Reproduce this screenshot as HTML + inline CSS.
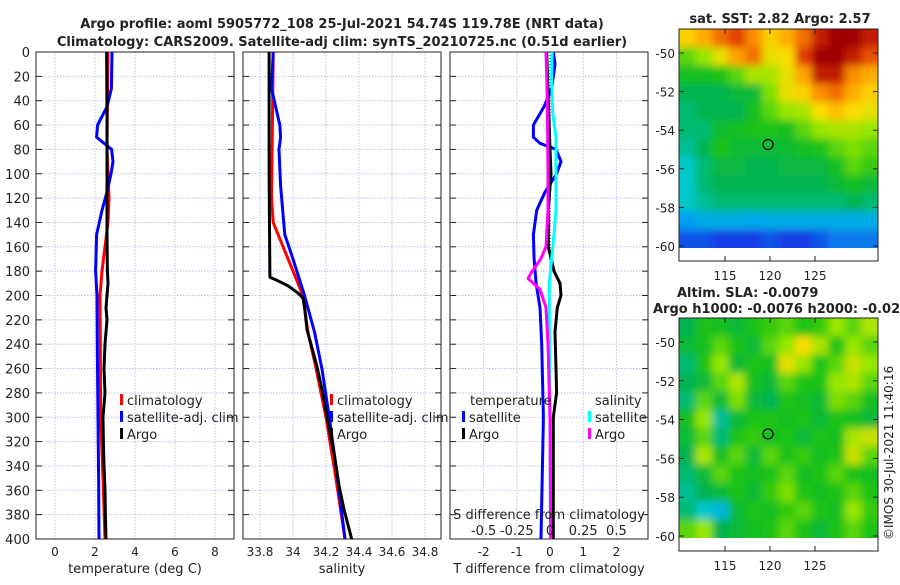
<!DOCTYPE html>
<html><head><meta charset="utf-8"><style>
body{margin:0;background:#fff;width:900px;height:580px;overflow:hidden}
svg text{font-family:"DejaVu Sans","Liberation Sans",sans-serif;fill:#222}
</style></head><body>
<svg id="fig" width="900" height="580" xmlns="http://www.w3.org/2000/svg">
<defs>
<filter id="blur" x="0" y="0" width="1" height="1"><feGaussianBlur stdDeviation="4"/></filter>
<clipPath id="clip1"><rect x="679" y="29" width="199" height="219"/></clipPath>
<clipPath id="clip2"><rect x="679" y="318" width="199" height="220"/></clipPath>
</defs>
<text x="342" y="28" font-size="13" font-weight="bold" text-anchor="middle">Argo profile: aoml 5905772_108 25-Jul-2021 54.74S 119.78E (NRT data)</text>
<text x="342" y="46" font-size="13" font-weight="bold" text-anchor="middle">Climatology: CARS2009. Satellite-adj clim: synTS_20210725.nc (0.51d earlier)</text>
<text x="780" y="23" font-size="13" font-weight="bold" text-anchor="middle">sat. SST: 2.82 Argo: 2.57</text>
<text x="677" y="297" font-size="13" font-weight="bold">Altim. SLA: -0.0079</text>
<text x="653" y="313" font-size="13" font-weight="bold">Argo h1000: -0.0076 h2000: -0.02</text>
<text transform="translate(893,540) rotate(-90)" font-size="12">©IMOS 30-Jul-2021 11:40:16</text>
<g id="plots"></g>
</svg>
<script>
// depth ticks
const depthTicks=[0,20,40,60,80,100,120,140,160,180,200,220,240,260,280,300,320,340,360,380,400];
// Panel 1 temperature
const tempTicks=[0,2,4,6,8];
const climTDepth=[0,40,80,120,140,160,180,200,250,300,350,400];
const climT=[2.65,2.62,2.6,2.7,2.65,2.5,2.35,2.25,2.27,2.28,2.4,2.5];
const satTDepth=[0,30,45,60,70,80,90,100,115,130,150,180,200,250,300,350,400];
const satT=[2.85,2.82,2.6,2.13,2.08,2.83,2.9,2.8,2.6,2.35,2.08,2.03,2.1,2.12,2.15,2.18,2.2];
const argoTDepth=[0,50,100,150,180,190,200,210,220,240,260,280,300,320,340,360,380,400];
const argoT=[2.58,2.6,2.6,2.6,2.62,2.65,2.6,2.55,2.6,2.5,2.45,2.5,2.4,2.42,2.45,2.5,2.52,2.55];
// Panel 2 salinity
const salTicks=[33.8,34,34.2,34.4,34.6,34.8];
const climSDepth=[0,60,120,140,160,180,200,230,260,300,350,400];
const climS=[33.88,33.875,33.87,33.88,33.94,34.0,34.06,34.09,34.14,34.2,34.26,34.315];
const satSDepth=[0,30,60,70,80,110,150,170,200,230,260,300,350,400];
const satS=[33.88,33.87,33.92,33.925,33.915,33.925,33.95,34.0,34.07,34.13,34.175,34.22,34.27,34.315];
const argoSDepth=[0,100,185,187,192,198,202,209,228,258,280,310,330,357,376,397,400];
const argoS=[33.855,33.855,33.86,33.895,33.97,34.03,34.06,34.07,34.085,34.145,34.18,34.22,34.25,34.28,34.31,34.35,34.355];
// Panel 3 differences (T axis units; S values)
const diffTTicks=[-2,-1,0,1,2];
const diffSTicks=[-0.5,-0.25,0,0.25,0.5];
const diffSLabels=["-0.5","-0.25","0","0.25","0.5"];
const satDTDepth=[0,10,30,45,60,70,75,80,90,100,115,130,150,170,190,210,240,300,400];
const satDT=[0.1,0.15,0.05,-0.18,-0.5,-0.5,-0.3,0.18,0.33,0.2,-0.15,-0.4,-0.5,-0.48,-0.42,-0.3,-0.25,-0.2,-0.27];
const argoDTDepth=[0,40,80,100,130,160,180,190,200,210,230,260,280,300,350,400];
const argoDT=[-0.1,-0.05,0,0.03,-0.05,-0.05,0.12,0.3,0.33,0.22,0.15,0.18,0.2,0.1,0.1,0.1];
const satDSDepth=[0,20,50,70,100,130,150,170,190,220,300,400];
const satDS=[0.015,0.012,0.02,0.045,0.045,0.045,0.03,0.012,-0.005,-0.005,0,0.004];
const argoDSDepth=[0,20,40,100,130,160,170,181,186,195,210,240,300,400];
const argoDS=[-0.03,-0.025,-0.02,-0.015,-0.015,-0.03,-0.07,-0.14,-0.165,-0.075,-0.03,-0.015,0,0.005];
// Map values (0..1)
const sstGrid=[
[.72,.78,.85,.9,.82,.72,.78,.85,.95,1,1,.95],
[.55,.6,.68,.8,.85,.68,.7,.9,1,1,.95,.88],
[.48,.48,.5,.55,.62,.62,.68,.8,.95,.95,.82,.78],
[.42,.42,.42,.45,.45,.58,.68,.72,.82,.85,.78,.72],
[.4,.42,.42,.42,.48,.55,.6,.62,.7,.75,.7,.68],
[.4,.4,.46,.48,.5,.5,.48,.55,.6,.62,.62,.6],
[.38,.42,.5,.46,.45,.45,.46,.48,.5,.55,.58,.55],
[.35,.4,.44,.44,.42,.42,.44,.44,.44,.48,.55,.52],
[.35,.4,.42,.42,.42,.42,.42,.42,.42,.45,.48,.45],
[.35,.38,.4,.4,.4,.4,.4,.4,.4,.4,.42,.4],
[.28,.3,.3,.3,.29,.3,.3,.3,.3,.3,.3,.3],
[.22,.22,.2,.2,.2,.22,.2,.2,.22,.25,.25,.25]];
const slaGrid=[
[.42,.5,.48,.45,.5,.52,.55,.5,.52,.6,.55,.62],
[.45,.48,.55,.5,.45,.55,.6,.7,.62,.5,.6,.55],
[.4,.5,.6,.45,.5,.48,.68,.6,.5,.55,.65,.6],
[.42,.45,.55,.62,.48,.45,.55,.5,.5,.6,.62,.55],
[.4,.55,.45,.58,.45,.42,.5,.48,.45,.58,.55,.48],
[.48,.6,.38,.45,.5,.5,.48,.5,.45,.5,.48,.45],
[.45,.55,.4,.5,.52,.48,.5,.45,.5,.48,.62,.65],
[.42,.62,.48,.55,.45,.55,.5,.52,.48,.5,.65,.55],
[.4,.45,.55,.5,.48,.5,.55,.48,.5,.55,.5,.48],
[.38,.42,.45,.5,.45,.52,.58,.5,.48,.5,.55,.5],
[.4,.35,.32,.45,.5,.48,.52,.55,.5,.48,.6,.52],
[.55,.6,.42,.45,.48,.5,.55,.5,.45,.5,.55,.5]];
const latTicks=[-50,-52,-54,-56,-58,-60];
const lonTicks=[115,120,125];
const argoLon=119.78, argoLat=-54.74;

const NS='http://www.w3.org/2000/svg';
const root=document.getElementById('plots');
function mk(tag,attrs,parent){const e=document.createElementNS(NS,tag);for(const k in attrs)e.setAttribute(k,attrs[k]);(parent||root).appendChild(e);return e;}
const Y0=52,Y1=539;
const yD=d=>Y0+(Y1-Y0)*d/400;
function lin(d0,d1,r0,r1){return v=>r0+(v-d0)*(r1-r0)/(d1-d0);}
function panel(name,x0,x1,xs,ticks,labels,showY){
  const g=mk('g',{});
  
  
  depthTicks.forEach(d=>{
    mk('line',{x1:x0,x2:x1,y1:yD(d),y2:yD(d),stroke:'#b8c4e8','stroke-dasharray':'1.5,1.5','stroke-width':1},g);
    mk('line',{x1:x0,x2:x0+6,y1:yD(d),y2:yD(d),stroke:'#222'},g);
    mk('line',{x1:x1-6,x2:x1,y1:yD(d),y2:yD(d),stroke:'#222'},g);
    if(showY){const t=mk('text',{x:x0-6,y:yD(d)+5,'font-size':13,'text-anchor':'end'},g);t.textContent=d;}
  });
  ticks.forEach((v,i)=>{
    const x=xs(v);
    mk('line',{x1:x,x2:x,y1:Y0,y2:Y1,stroke:'#b8c4e8','stroke-dasharray':'1.5,1.5'},g);
    const t=mk('text',{x:x,y:Y1+17,'font-size':12,'text-anchor':'middle'},g);t.textContent=labels?labels[i]:v;
  });
  mk('rect',{x:x0,y:Y0,width:x1-x0,height:Y1-Y0,fill:'none',stroke:'#222'},g);
  return g;
}
function line(g,name,depths,vals,xs,color,w,dash){
  const p=mk('polyline',{points:depths.map((d,i)=>xs(vals[i]).toFixed(1)+','+yD(d).toFixed(1)).join(' '),fill:'none',stroke:color,'stroke-width':w||3,'stroke-linejoin':'round'},g);
  if(dash)p.setAttribute('stroke-dasharray',dash);
  
  
}
function text(g,x,y,s,size,anchor){const t=mk('text',{x:x,y:y,'font-size':size||13,'text-anchor':anchor||'start'},g);t.textContent=s;return t;}
function legend(g,name,x,y,color,label){
  const lg=mk('g',{},g);
  
  
  mk('rect',{x:x,y:y-11,width:3,height:11,fill:color},lg);
  text(lg,x+7,y,label,13);
}
// Panel 1
const xT=lin(0,2,55,95);
const g1=panel('temperature-panel',36,234,xT,tempTicks,null,true);
line(g1,'climatology-temp-line',climTDepth,climT,xT,'#f00');
line(g1,'satellite-temp-line',satTDepth,satT,xT,'#00f');
line(g1,'argo-temp-line',argoTDepth,argoT,xT,'#000');
text(g1,135,573,'temperature (deg C)',13,'middle');
legend(g1,'legend-climatology',120,405,'#f00','climatology');
legend(g1,'legend-satellite',120,422,'#00f','satellite-adj. clim');
legend(g1,'legend-argo',120,439,'#000','Argo');
// Panel 2
const xS=lin(33.8,34,260,293);
const g2=panel('salinity-panel',243,441,xS,salTicks,null,false);
line(g2,'climatology-sal-line',climSDepth,climS,xS,'#f00');
line(g2,'satellite-sal-line',satSDepth,satS,xS,'#00f');
line(g2,'argo-sal-line',argoSDepth,argoS,xS,'#000');
text(g2,342,573,'salinity',13,'middle');
legend(g2,'legend-climatology-sal',330,405,'#f00','climatology');
legend(g2,'legend-satellite-sal',330,422,'#00f','satellite-adj. clim');
legend(g2,'legend-argo-sal',330,439,'#000','Argo');
// Panel 3
const xDT=lin(0,1,550,583.2);
const xDS=lin(0,0.25,550,583.2);
const g3=panel('difference-panel',450,648,xDT,diffTTicks,null,false);
mk('line',{x1:xDT(0),x2:xDT(0),y1:Y0,y2:Y1,stroke:'#555','stroke-dasharray':'1,2','stroke-width':1.5},g3);
line(g3,'satellite-tdiff-line',satDTDepth,satDT,xDT,'#00f');
line(g3,'argo-tdiff-line',argoDTDepth,argoDT,xDT,'#000');
line(g3,'satellite-sdiff-line',satDSDepth,satDS,xDS,'#0ff');
line(g3,'argo-sdiff-line',argoDSDepth,argoDS,xDS,'#f0f');
text(g3,549,573,'T difference from climatology',13,'middle');
text(g3,470,405,'temperature',13);
text(g3,595,405,'salinity',13);
legend(g3,'legend-sat-t',462,422,'#00f','satellite');
legend(g3,'legend-argo-t',462,439,'#000','Argo');
legend(g3,'legend-sat-s',588,422,'#0ff','satellite');
legend(g3,'legend-argo-s',588,439,'#f0f','Argo');
text(g3,549,519,'S difference from climatology',13,'middle');
diffSTicks.forEach((v,i)=>text(g3,xDS(v),535,diffSLabels[i],13,'middle'));
// Maps
const cmapStops=[[0,[0,0,170]],[0.2,[20,60,230]],[0.28,[0,160,240]],[0.35,[0,200,200]],[0.42,[0,180,80]],[0.5,[30,195,20]],[0.6,[150,230,0]],[0.7,[250,220,0]],[0.8,[255,160,0]],[0.9,[225,60,0]],[1,[160,0,0]]];
function cmap(v){
  for(let i=1;i<cmapStops.length;i++){
    if(v<=cmapStops[i][0]){const a=cmapStops[i-1],b=cmapStops[i];const t=(v-a[0])/(b[0]-a[0]);
      return 'rgb('+a[1].map((c,k)=>Math.round(c+(b[1][k]-c)*t)).join(',')+')';}
  }
  return 'rgb(160,0,0)';
}
function map(name,grid,fx0,fx1,fy0,fy1,dataY1,lat50,lat60,labY,clip){
  const g=mk('g',{});
  
  
  const cg=mk('g',{'clip-path':'url(#'+clip+')'},g);
  const bg=mk('g',{filter:'url(#blur)'},cg);
  const rows=grid.length,cols=grid[0].length;
  const cw=(fx1-fx0)/cols,ch=(dataY1-fy0)/rows;
  grid.forEach((r,i)=>r.forEach((v,j)=>{
    const ex=(j==0?-12:0), ey=(i==0?-12:0);
    const ew=(j==cols-1?12:0)-ex, eh=(i==rows-1?12:0)-ey;
    const c=mk('rect',{x:fx0+j*cw+ex,y:fy0+i*ch+ey,width:cw+0.6+ew,height:ch+0.6+eh,fill:cmap(v)},bg);
    
    
  }));
  const yL=lin(-50,-60,lat50,lat60), xL=lin(115,125,725,815);
  latTicks.forEach(l=>{const y=yL(l);mk('line',{x1:fx0,x2:fx0+5,y1:y,y2:y,stroke:'#222'},g);mk('line',{x1:fx1-5,x2:fx1,y1:y,y2:y,stroke:'#222'},g);text(g,fx0-4,y+5,String(l),12,'end');});
  lonTicks.forEach(l=>{const x=xL(l);mk('line',{x1:x,x2:x,y1:fy1-5,y2:fy1,stroke:'#222'},g);mk('line',{x1:x,x2:x,y1:fy0,y2:fy0+5,stroke:'#222'},g);text(g,x,labY,String(l),12,'middle');});
  const m=mk('circle',{cx:xL(argoLon),cy:yL(argoLat),r:5,fill:'none',stroke:'#000','stroke-width':1.2},g);
  
  
  mk('rect',{x:fx0,y:fy0,width:fx1-fx0,height:fy1-fy0,fill:'none',stroke:'#222'},g);
}
map('sst-map',sstGrid,679,878,29,261,248,53,246,280,'clip1');
map('sla-map',slaGrid,679,878,318,551,538,342,536,570,'clip2');
</script>
</body></html>
